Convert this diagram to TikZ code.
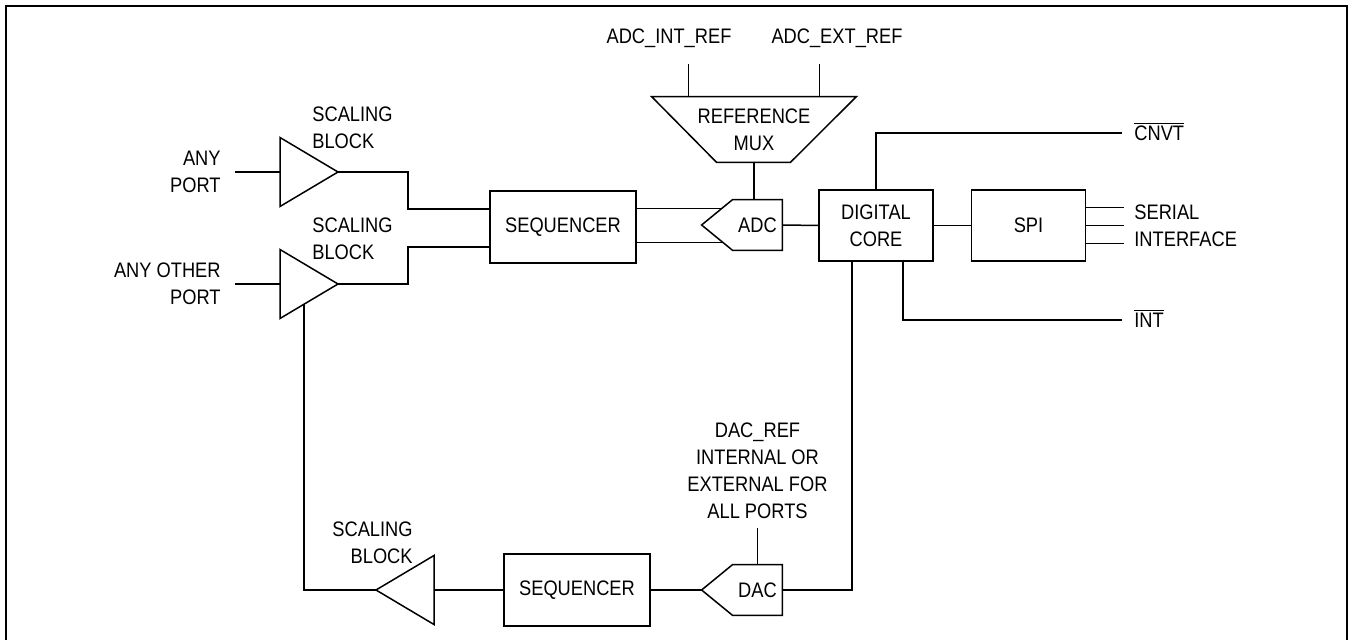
\documentclass[tikz,border=0pt]{standalone}
\usepackage{fontspec}
\setmainfont[FakeStretch=0.87]{Liberation Sans}
\usetikzlibrary{calc,positioning,shapes.geometric}
\tikzset{
  wire/.style={line width=.75pt, draw=black},
  frameline/.style={line width=1pt, draw=black},
  box/.style={
    draw,
    line width=.75pt,
    minimum width=73pt,
    minimum height=36pt,
    inner sep=0pt,
    align=center
  },
  corebox/.style={
    box,
    minimum width=57pt,
    minimum height=35.5pt
  },
  convbox/.style={
    inner sep=0pt,
    minimum width=24.5pt,
    minimum height=25pt
  },
  ampbox/.style={
    isosceles triangle,
    isosceles triangle stretches,
    draw,
    line width=.75pt,
    minimum width=34.5pt,
    minimum height=29pt,
    inner sep=0pt,
    outer sep=0pt
  },
  labeltext/.style={inner sep=0pt, align=center}
}
\begin{document}
\begin{tikzpicture}[x=0.5pt, y=-0.5pt, font=\fontsize{10.5}{13.5}\selectfont]
  \useasboundingbox (0,0) rectangle (1351,640);
  \draw[frameline] (5.5,640) -- (5.5,6.5) -- (1347,6.5) -- (1347,640);

  % scaling blocks
  \node[ampbox, anchor=lower side] (ampA) at (280,172) {};
  \node[ampbox, anchor=lower side] (ampB) at (280,284) {};
  \node[ampbox, shape border rotate=180, anchor=apex] (ampC) at (376,590) {};

  \coordinate (portA) at (235,172);
  \coordinate (portB) at (235,284);
  \node[labeltext, left=7pt of portA, align=right] (portAtxt) {ANY\\PORT};
  \node[labeltext, left=7pt of portB, align=right] (portBtxt) {ANY OTHER\\PORT};
  \draw[wire] (portA) -- (ampA.lower side);
  \draw[wire] (portB) -- (ampB.lower side);

  \node[labeltext, anchor=west, align=left] (sclA) at (312,128) {SCALING\\BLOCK};
  \node[labeltext, anchor=west, align=left] (sclB) at (312,239) {SCALING\\BLOCK};
  \node[labeltext, anchor=east, align=right] (sclC) at (413,543) {SCALING\\BLOCK};

  % adc path
  \node[box] (seqA) at (563,227) {SEQUENCER};
  \node[convbox] (adc) at (757.5,225) {ADC};
  \coordinate (adcpt) at ($(adc.west)+(-31,0)$);
  \draw[wire] (adc.north east) -- (adc.north west) -- (adcpt)
    -- (adc.south west) -- (adc.south east) -- cycle;

  \coordinate (jogA) at (408,209);
  \coordinate (jogB) at (408,247);
  \draw[wire] (ampA.apex) -| (jogA) -- (jogA -| seqA.west);
  \draw[wire] (ampB.apex) -| (jogB) -- (jogB -| seqA.west);

  \coordinate (adcU) at ($(adc.north west)!.36!(adcpt)$);
  \coordinate (adcL) at ($(adc.south west)!.32!(adcpt)$);
  \draw[wire] (adcU -| seqA.east) -- (adcU);
  \draw[wire] (adcL -| seqA.east) -- (adcL);

  % reference mux
  \node[labeltext, minimum width=102pt, minimum height=32.5pt] (mux) at (754,129.5)
    {REFERENCE\\MUX};
  \draw[wire] (mux.north west) -- (mux.north east) -- ($(mux.south east)+(-66,0)$)
    -- ($(mux.south west)+(65,0)$) -- cycle;
  \node[labeltext] (intref) at (669,38) {ADC\_INT\_REF};
  \node[labeltext] (extref) at (837,38) {ADC\_EXT\_REF};
  \draw[wire] ($(mux.north west)+(37,0)$) -- ++(0,-33);
  \draw[wire] ($(mux.north east)+(-37,0)$) -- ++(0,-33);
  \draw[wire] (mux.south) -- (mux.south |- adc.north);

  % digital core and spi
  \node[corebox] (core) at (876,225.5) {DIGITAL\\CORE};
  \node[corebox, right=18.5pt of core] (spi) {SPI};
  \draw[wire] (adc.east) -- (core.west);
  \draw[wire] (core) -- (spi);

  \foreach \dy in {-18,0,18}
    \draw[wire] ($(spi.east)+(0,\dy)$) -- ++(38,0);
  \node[labeltext, anchor=west, align=left] (serial) at (1134,226) {SERIAL\\INTERFACE};

  \coordinate (cnvtEnd) at (1122,133);
  \coordinate (intEnd) at (1122,320);
  \draw[wire] (core.north) |- (cnvtEnd);
  \draw[wire] ($(core.south)+(27,0)$) |- (intEnd);
  \node[labeltext, anchor=base west] (cnvt) at ($(cnvtEnd)+(12,7.5)$) {$\overline{\mbox{CNVT}}$};
  \node[labeltext, anchor=base west] (int) at ($(intEnd)+(12,7.5)$) {$\overline{\mbox{INT}}$};

  % dac path
  \node[box] (seqB) at (577,590) {SEQUENCER};
  \node[convbox] (dac) at (757.5,590) {DAC};
  \coordinate (dacpt) at ($(dac.west)+(-31,0)$);
  \draw[wire] (dac.north east) -- (dac.north west) -- (dacpt)
    -- (dac.south west) -- (dac.south east) -- cycle;
  \draw[wire] (seqB.east) -- (dacpt);
  \draw[wire] ($(core.south)+(-24,0)$) |- (dac.east);
  \draw[wire] (dac.north) -- ++(0,-37) coordinate (dacTap);
  \node[labeltext, above=4pt of dacTap] (dacref)
    {DAC\_REF\\INTERNAL OR\\EXTERNAL FOR\\ALL PORTS};

  \draw[wire] (seqB.west) -- (ampC.lower side);
  \coordinate (fbk) at (304,590);
  \coordinate (tapB) at ($(ampB.apex)!.586!(ampB.right corner)$);
  \draw[wire] (ampC.apex) -- (fbk) -- (fbk |- tapB);
\end{tikzpicture}
\end{document}
